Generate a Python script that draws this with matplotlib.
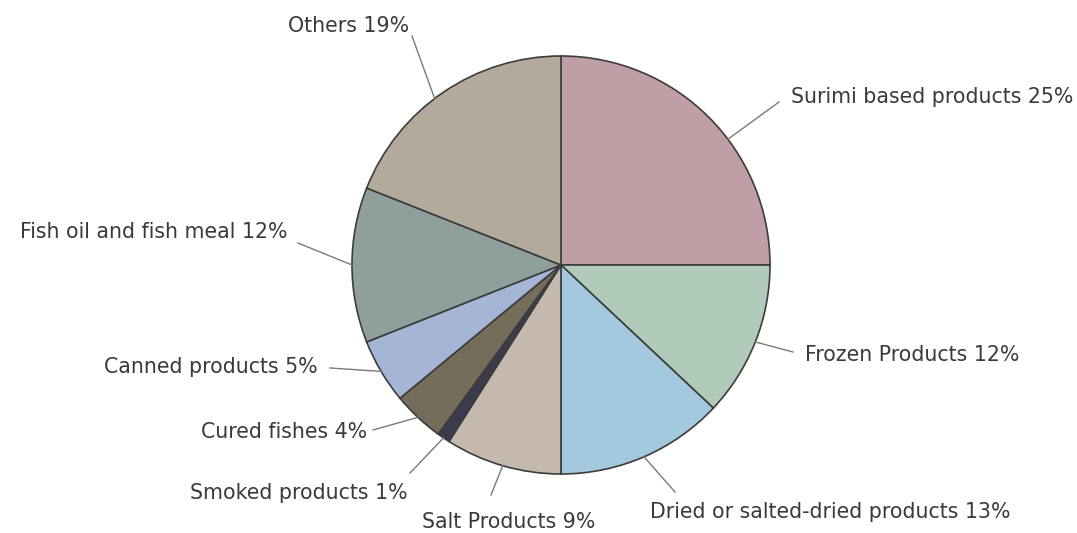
import numpy as np
import matplotlib.pyplot as plt

# ---------------- data ----------------
labels = ['Surimi based products', 'Frozen Products', 'Dried or salted-dried products',
          'Salt Products', 'Smoked products', 'Cured fishes', 'Canned products',
          'Fish oil and fish meal', 'Others']
shares = [25, 12, 13, 9, 1, 4, 5, 12, 19]
colors = ['#bf9ea6', '#b1cbbb', '#a4c9de', '#c5b9ad', '#3b3b4b', '#756c5a',
          '#a4b5d6', '#8fa09c', '#b3aa9c']

# label layout in pixel coords (x, y from top): text anchor, line end, alignment
text_pos = [(791, 97), (805, 355), (650, 512), (422, 522), (408, 493),
            (367, 432), (318, 367), (288, 232), (409, 26)]
line_end = [(779, 102), (793, 352), (675, 492), (491, 495), (410, 473),
            (373, 430), (330, 368), (298, 243), (412, 36)]
ha = ['left', 'left', 'left', 'left', 'right', 'right', 'right', 'right', 'right']
start_shift = [-8, 0, 0, 0, 0, 0, 0, 0, 3]  # degrees, leader start off the mid angle

W, H = 1077, 533
cx, cy, R = 561, 265, 209

fig = plt.figure(figsize=(W / 100, H / 100), dpi=100)
ax = fig.add_axes([0, 0, 1, 1])

wedges, _ = ax.pie(shares, colors=colors, startangle=90, counterclock=False,
                   center=(cx, H - cy), radius=R,
                   wedgeprops=dict(edgecolor='#3c3c3c', linewidth=1.2))
ax.set_xlim(0, W)
ax.set_ylim(0, H)
ax.set_aspect('equal')
ax.axis('off')

for w, lab, s, tp, le, a, sh in zip(wedges, labels, shares, text_pos, line_end, ha, start_shift):
    mid = np.deg2rad((w.theta1 + w.theta2) / 2 + sh)
    x0 = cx + R * np.cos(mid)
    y0 = (H - cy) + R * np.sin(mid)
    ax.plot([x0, le[0]], [y0, H - le[1]], color='#7a7a7a', lw=1)
    ax.text(tp[0], H - tp[1], f'{lab} {s}%', ha=a, va='center',
            fontsize=14.8, color='#3a3a3a')

fig.savefig('out.png', dpi=100)
